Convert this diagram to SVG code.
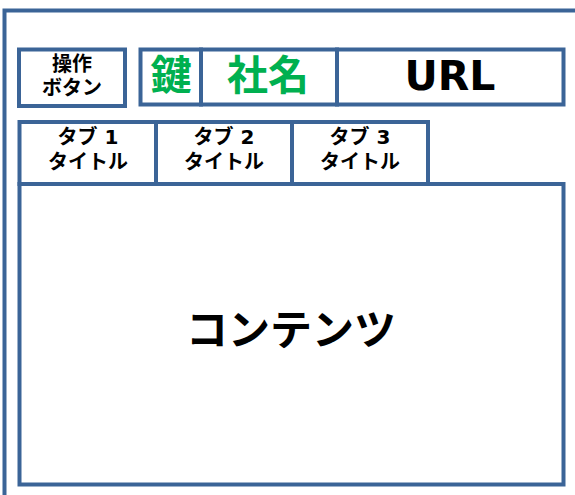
<svg xmlns="http://www.w3.org/2000/svg" width="575" height="495" viewBox="0 0 575 495">
<style>
.box{fill:#fff;stroke:#3B6497;stroke-width:4;stroke-linejoin:miter}
.t{font-family:"DejaVu Sans","Noto Sans CJK JP",sans-serif;font-weight:bold;text-anchor:middle;dominant-baseline:central;fill:#000}
.g{fill:#00B050}
.s{font-size:20px}
</style>
<rect width="575" height="495" fill="#fff"/>
<g id="frame"><path class="box" d="M4.5 505 V10.5 H585"/></g>
<g id="op-button"><rect class="box" x="19" y="49.5" width="106" height="56.5"/>
<text class="t" x="72" y="64" font-size="20">操作</text>
<text class="t" x="72" y="88" font-size="20">ボタン</text></g>
<g id="key"><rect class="box" x="140.5" y="49.5" width="60.5" height="55"/>
<text class="t g" x="171" y="76" font-size="41">鍵</text></g>
<g id="company"><rect class="box" x="201" y="49.5" width="136" height="55"/>
<text class="t g" x="268" y="76" font-size="41">社名</text></g>
<g id="url"><rect class="box" x="337" y="49.5" width="226.5" height="55"/>
<text class="t" x="450" y="76" font-size="41">URL</text></g>
<g id="content"><rect class="box" x="19.5" y="184" width="544" height="300.5"/>
<text class="t" x="291" y="330" font-size="42">コンテンツ</text></g>
<g id="tab1"><rect class="box" x="19.5" y="122" width="136.5" height="62"/>
<text class="t s" x="88" y="137">タブ 1</text>
<text class="t s" x="88" y="162">タイトル</text></g>
<g id="tab2"><rect class="box" x="156" y="122" width="136" height="62"/>
<text class="t s" x="224" y="137">タブ 2</text>
<text class="t s" x="224" y="162">タイトル</text></g>
<g id="tab3"><rect class="box" x="292" y="122" width="136" height="62"/>
<text class="t s" x="360" y="137">タブ 3</text>
<text class="t s" x="360" y="162">タイトル</text></g>
<g id="connectors"></g>
</svg>
